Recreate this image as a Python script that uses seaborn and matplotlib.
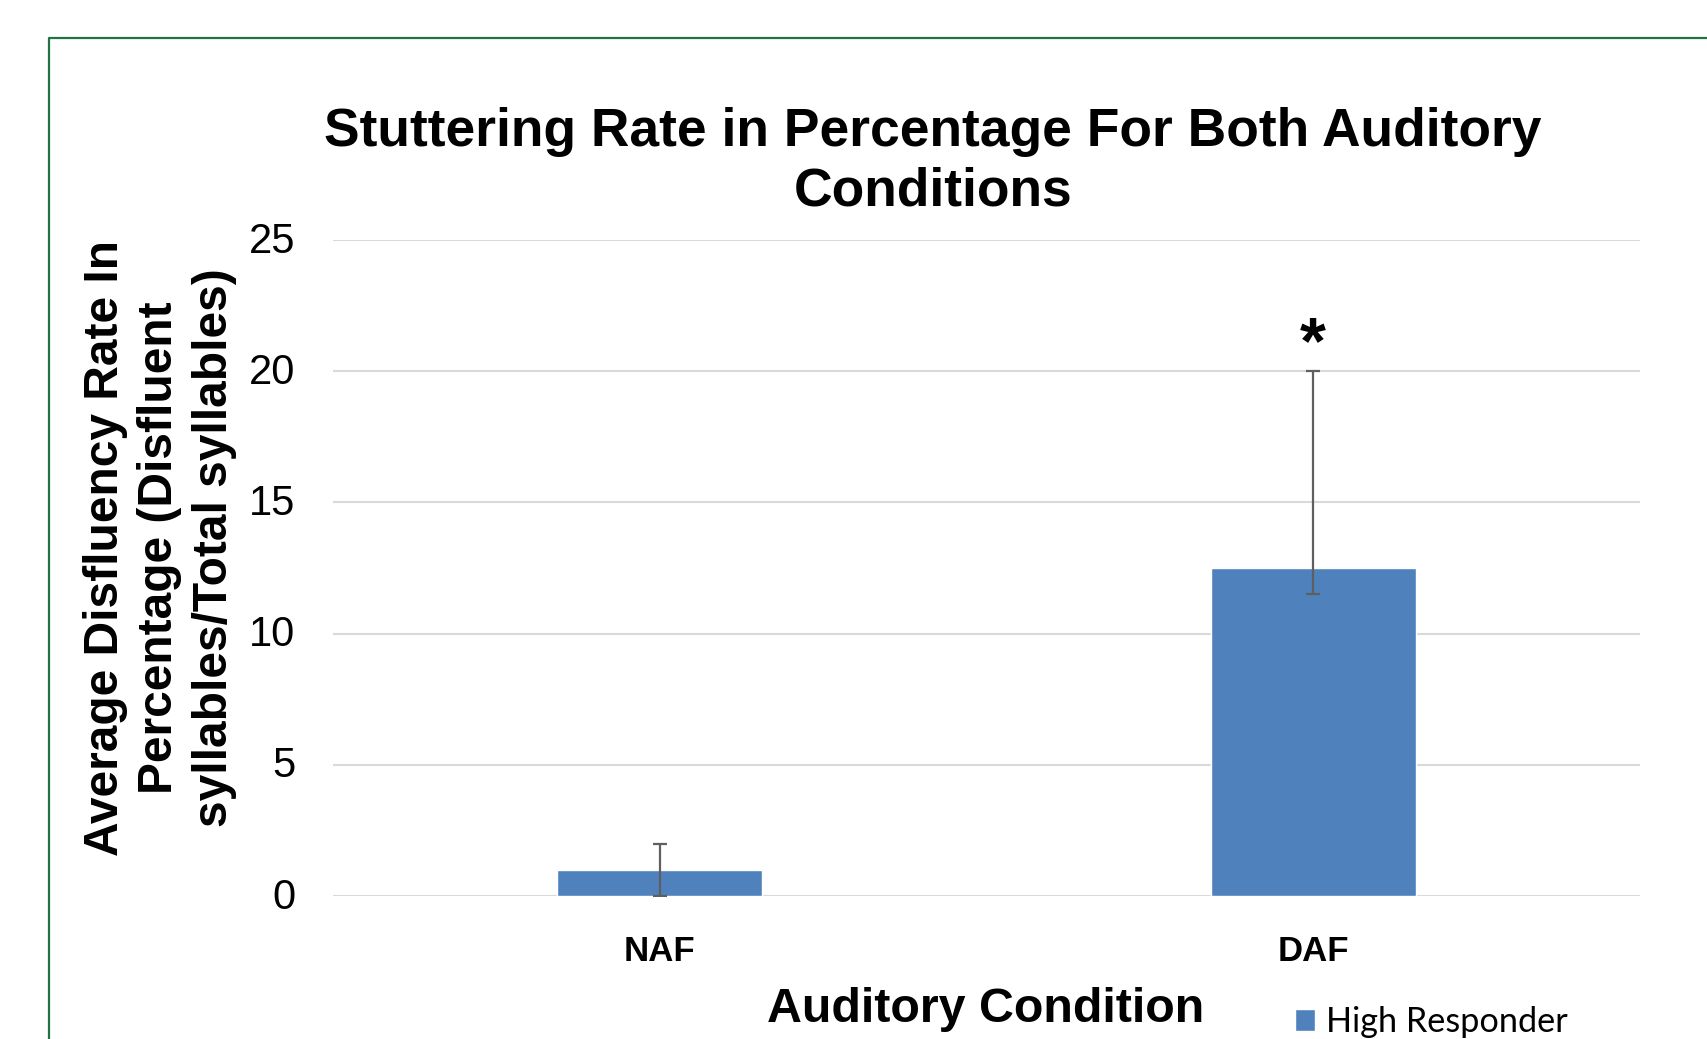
import pandas as pd
import matplotlib.pyplot as plt
import matplotlib.transforms as mtransforms
import seaborn as sns
from matplotlib.lines import Line2D

# values
conditions = ["NAF", "DAF"]
mean_rate = [1.0, 12.5]
err_low = [1.0, 1.0]
err_high = [1.0, 7.5]
group = ["High Responder", "High Responder"]
yticks = [0, 5, 10, 15, 20, 25]

df = pd.DataFrame({"condition": conditions, "rate": mean_rate, "group": group})

sns.set_style("white")
plt.rcParams['font.family'] = ['Liberation Sans', 'DejaVu Sans']
plt.rcParams['text.color'] = 'black'
plt.rcParams['xtick.color'] = 'black'
plt.rcParams['ytick.color'] = 'black'

fig = plt.figure(figsize=(17.07, 10.39), dpi=100)
ax = fig.add_axes([0.1951, 0.1376, 0.7656, 0.6314])

sns.barplot(
    data=df,
    x="condition",
    y="rate",
    hue="group",
    palette=["#4F81BD"],
    saturation=1,
    width=0.314,
    errorbar=None,
    legend=True,
    ax=ax
)

ax.errorbar(
    x=range(len(conditions)),
    y=mean_rate,
    yerr=[err_low, err_high],
    fmt="none",
    ecolor="#5f5f5f",
    elinewidth=1.6,
    capsize=5,
    capthick=1.6
)

ax.text(1, 20.95, "*", ha="center", va="center", fontsize=48, fontweight="bold")

ax.set_xlim(-0.5, 1.5)
ax.set_ylim(0, 25)
ax.set_yticks(yticks)
ax.yaxis.grid(True, color="#d9d9d9", linewidth=1.5)
ax.set_axisbelow(True)
for s in ax.spines.values():
    s.set_visible(False)

ax.tick_params(axis="y", length=0, pad=27, labelsize=30)
ax.tick_params(axis="x", length=0, pad=28, labelsize=25)
for lab in ax.get_xticklabels():
    lab.set_fontweight("bold")

# nudge y tick labels up a little, like the original
shift = mtransforms.ScaledTranslation(0, 3 / 100, fig.dpi_scale_trans)
for lab in ax.get_yticklabels():
    lab.set_transform(lab.get_transform() + shift)
ax.set_xlabel("")
ax.set_ylabel("")

fig.text(0.5466, 0.844, "Stuttering Rate in Percentage For Both Auditory\nConditions",
         ha="center", va="center", fontsize=38.4, fontweight="bold", linespacing=1.25)

fig.text(160 / 1707, 0.4726,
         "Average Disfluency Rate In\nPercentage (Disfluent\nsyllables/Total syllables)",
         rotation=90, ha="center", va="center", fontsize=34.5, fontweight="bold",
         multialignment="center", linespacing=1.28)

fig.text(986 / 1707, 1 - 1010 / 1039, "Auditory Condition",
         ha="center", va="center", fontsize=34.8, fontweight="bold")

leg = ax.legend(
    loc="center left",
    bbox_to_anchor=(1264 / 1707, 1 - 1022 / 1039),
    bbox_transform=fig.transFigure,
    frameon=False,
    handlelength=0.6,
    handleheight=0.6,
    handletextpad=0.3,
    prop={"family": "Lato", "size": 24.7}
)

# green chart-area border, cut off on the right and bottom
fig.add_artist(Line2D([49 / 1707, 49 / 1707, 1.0], [0.0, 1 - 38 / 1039, 1 - 38 / 1039],
                      transform=fig.transFigure, color="#217346", linewidth=1.6))

plt.savefig("out.png", dpi=100)
